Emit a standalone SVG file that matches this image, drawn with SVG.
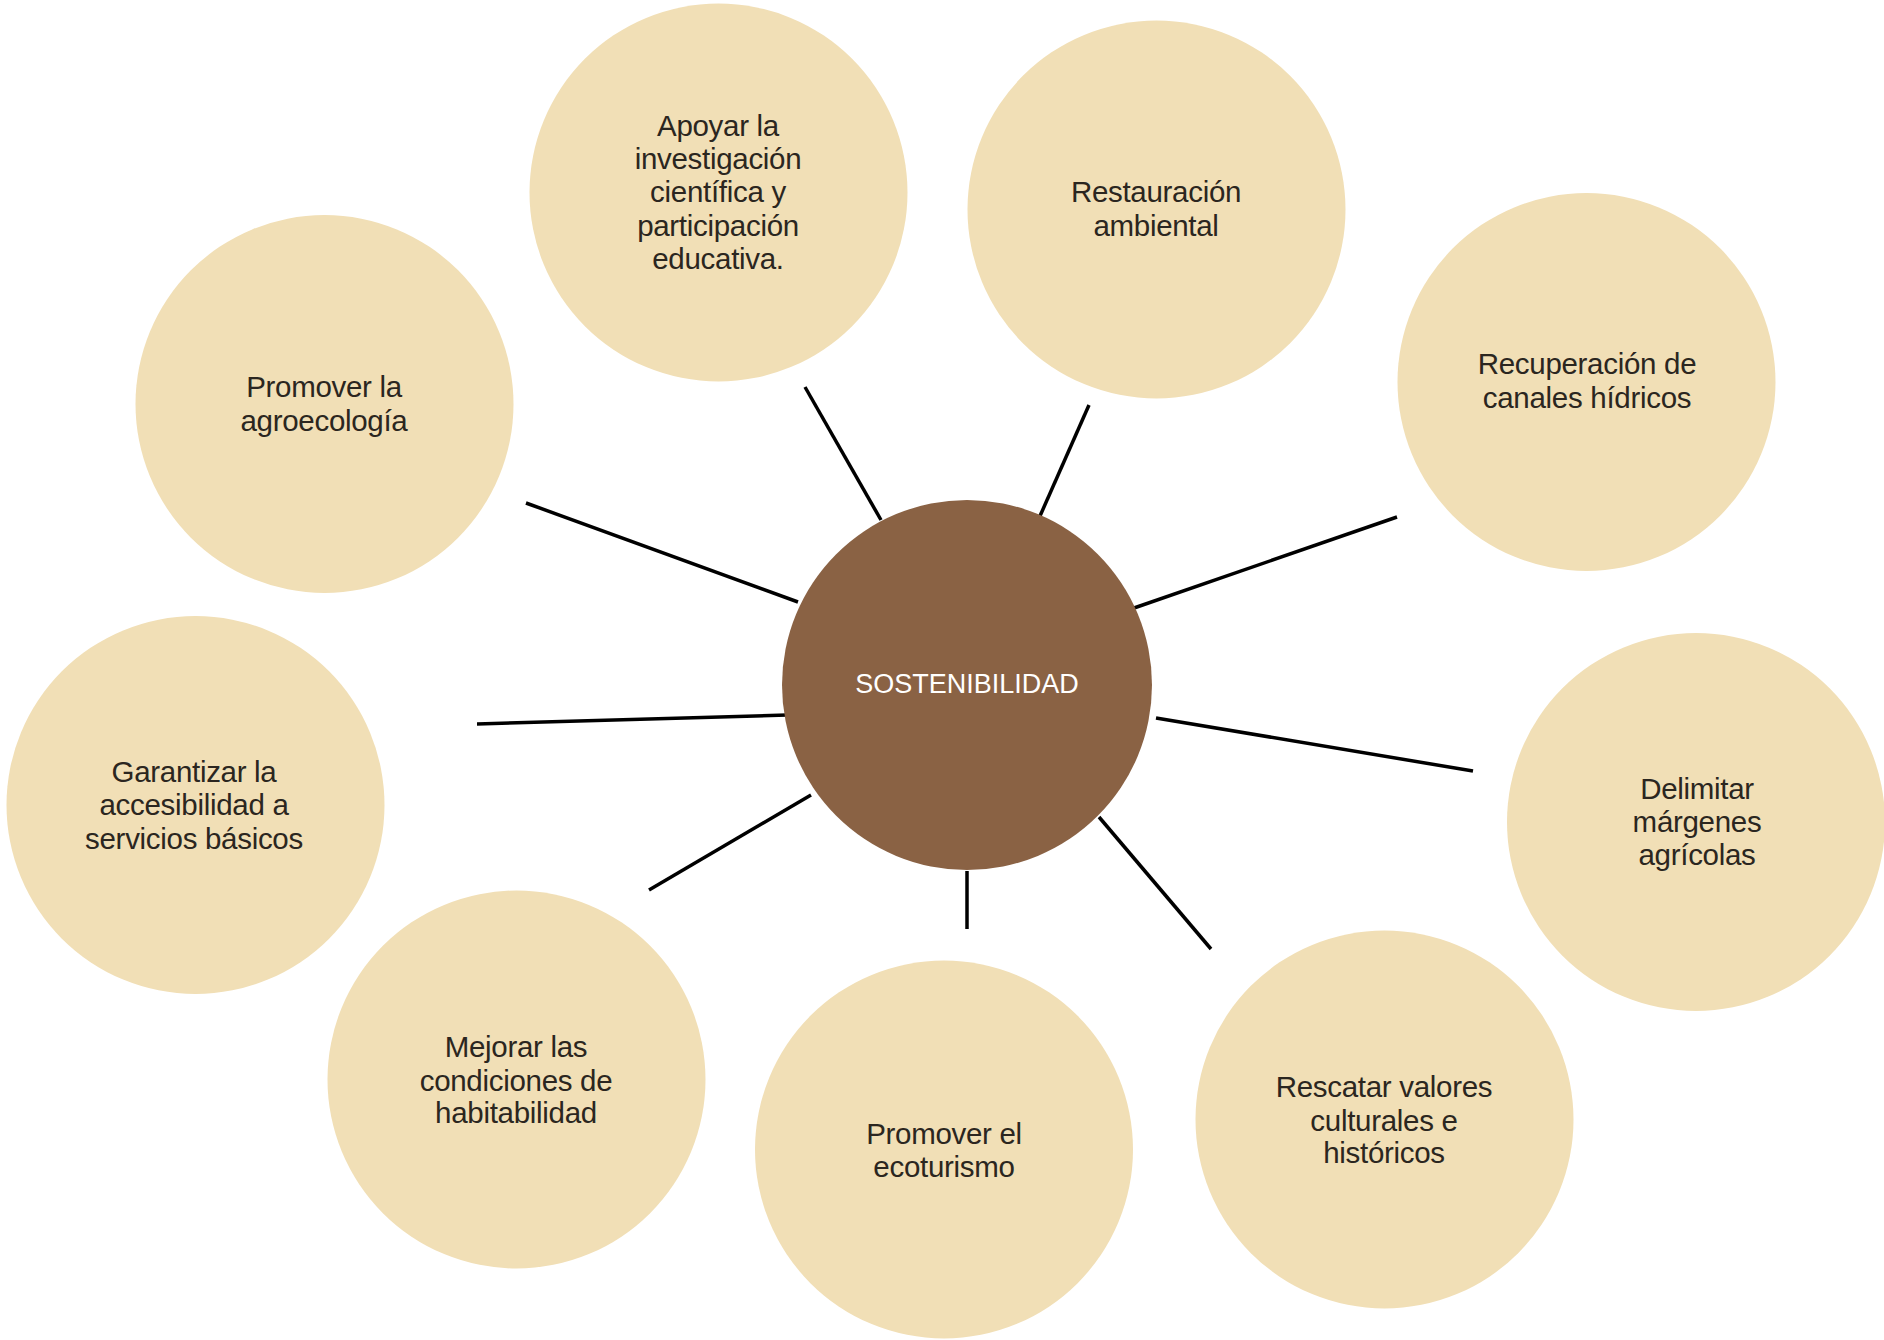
<svg xmlns="http://www.w3.org/2000/svg" width="1884" height="1340" viewBox="0 0 1884 1340">
<style>
.leaf{fill:#F1DFB6}
.hub{fill:#8A6244}
.lbl{font-family:"Liberation Sans",Arial,sans-serif;font-size:29.5px;fill:#2B2620;text-anchor:middle;letter-spacing:-0.3px}
.hubtxt{font-family:"Liberation Sans",Arial,sans-serif;font-size:27px;fill:#FFFFFF;text-anchor:middle;letter-spacing:0}
.conn line{stroke:#000;stroke-width:3.5;stroke-linecap:butt}
</style>
<rect width="1884" height="1340" fill="#FFFFFF"/>
<g id="connectors" class="conn">
<line x1="881" y1="520" x2="805" y2="387"/>
<line x1="1040" y1="516" x2="1089" y2="405"/>
<line x1="1134" y1="608" x2="1397" y2="517"/>
<line x1="1156" y1="718" x2="1473" y2="771"/>
<line x1="1099" y1="817" x2="1211" y2="949"/>
<line x1="967" y1="871" x2="967" y2="929"/>
<line x1="811" y1="795" x2="649" y2="890"/>
<line x1="787" y1="715" x2="477" y2="724"/>
<line x1="798" y1="602" x2="526" y2="503"/>
</g>
<g id="node-sostenibilidad">
<circle class="hub" cx="967" cy="685" r="185"/>
<text class="hubtxt" x="967" y="693">SOSTENIBILIDAD</text>
</g>
<g id="node-apoyar">
<circle class="leaf" cx="718.5" cy="192.5" r="189"/>
<text class="lbl" x="718" y="136">Apoyar la<tspan x="718" dy="33">investigación</tspan><tspan x="718" dy="33">científica y</tspan><tspan x="718" dy="34">participación</tspan><tspan x="718" dy="33">educativa.</tspan></text>
</g>
<g id="node-restauracion">
<circle class="leaf" cx="1156.5" cy="209.5" r="189"/>
<text class="lbl" x="1156" y="202">Restauración<tspan x="1156" dy="34">ambiental</tspan></text>
</g>
<g id="node-recuperacion">
<circle class="leaf" cx="1586.5" cy="382" r="189"/>
<text class="lbl" x="1587" y="374">Recuperación de<tspan x="1587" dy="34">canales hídricos</tspan></text>
</g>
<g id="node-delimitar">
<circle class="leaf" cx="1696" cy="822" r="189"/>
<text class="lbl" x="1697" y="799">Delimitar<tspan x="1697" dy="33">márgenes</tspan><tspan x="1697" dy="33">agrícolas</tspan></text>
</g>
<g id="node-rescatar">
<circle class="leaf" cx="1384.5" cy="1119.5" r="189"/>
<text class="lbl" x="1384" y="1097">Rescatar valores<tspan x="1384" dy="34">culturales e</tspan><tspan x="1384" dy="32">históricos</tspan></text>
</g>
<g id="node-ecoturismo">
<circle class="leaf" cx="944" cy="1149.5" r="189"/>
<text class="lbl" x="944" y="1144">Promover el<tspan x="944" dy="33">ecoturismo</tspan></text>
</g>
<g id="node-mejorar">
<circle class="leaf" cx="516.5" cy="1079.5" r="189"/>
<text class="lbl" x="516" y="1057">Mejorar las<tspan x="516" dy="34">condiciones de</tspan><tspan x="516" dy="32">habitabilidad</tspan></text>
</g>
<g id="node-garantizar">
<circle class="leaf" cx="195.5" cy="805" r="189"/>
<text class="lbl" x="194" y="782">Garantizar la<tspan x="194" dy="33">accesibilidad a</tspan><tspan x="194" dy="34">servicios básicos</tspan></text>
</g>
<g id="node-agroecologia">
<circle class="leaf" cx="324.5" cy="404" r="189"/>
<text class="lbl" x="324" y="397">Promover la<tspan x="324" dy="34">agroecología</tspan></text>
</g>
</svg>
